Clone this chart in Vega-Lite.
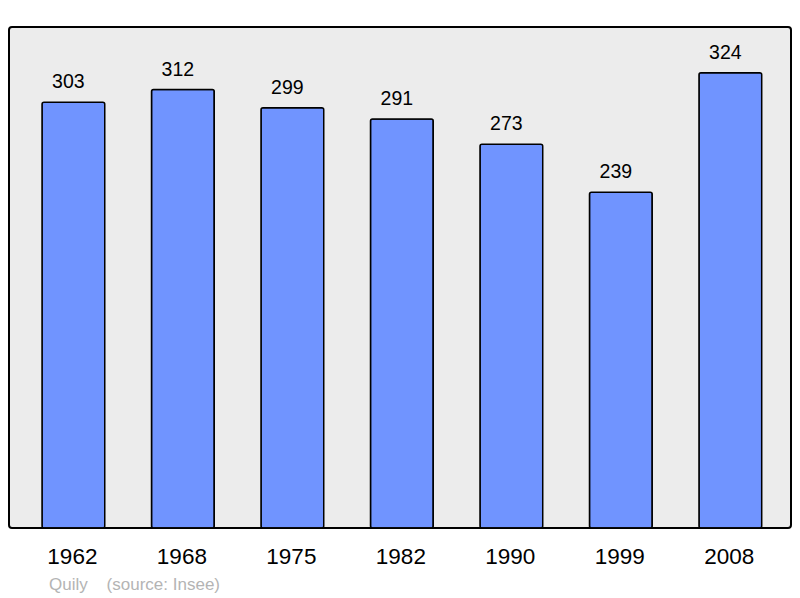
{
  "$schema": "https://vega.github.io/schema/vega-lite/v6.json",
  "width": 782,
  "height": 501,
  "autosize": "none",
  "padding": {"left": 9, "top": 27, "right": 9, "bottom": 70},
  "background": "white",
  "config": {
    "view": {"fill": "#ececec", "stroke": "#000000", "strokeWidth": 2, "cornerRadius": 3},
    "font": "Liberation Sans"
  },
  "title": {
    "text": "Quily\u00a0\u00a0\u00a0\u00a0(source: Insee)",
    "orient": "bottom",
    "anchor": "start",
    "frame": "group",
    "dx": 40,
    "offset": 9,
    "fontSize": 17,
    "fontWeight": "normal",
    "color": "#b4b4b4",
    "font": "Liberation Sans"
  },
  "data": {
    "values": [
      {"year": "1962", "pop": 303},
      {"year": "1968", "pop": 312},
      {"year": "1975", "pop": 299},
      {"year": "1982", "pop": 291},
      {"year": "1990", "pop": 273},
      {"year": "1999", "pop": 239},
      {"year": "2008", "pop": 324}
    ]
  },
  "encoding": {
    "x": {
      "field": "year",
      "type": "nominal",
      "sort": null,
      "scale": {"paddingInner": 0.427, "paddingOuter": 0.2845, "align": 0.53},
      "axis": {
        "title": null,
        "domain": false,
        "ticks": false,
        "labelAngle": 0,
        "labelFontSize": 22.5,
        "labelColor": "#000000",
        "labelFont": "Liberation Sans",
        "labelBaseline": "alphabetic",
        "labelPadding": 35,
        "labelOffset": -1
      }
    },
    "y": {
      "field": "pop",
      "type": "quantitative",
      "scale": {"domain": [0, 356.5], "nice": false, "zero": true},
      "axis": null
    }
  },
  "layer": [
    {
      "mark": {"type": "bar", "fill": "#7094ff", "stroke": "#000000", "strokeWidth": 1.5, "cornerRadius": 2}
    },
    {
      "mark": {"type": "text", "baseline": "alphabetic", "dy": -14, "dx": -5, "fontSize": 19.5, "color": "#000000", "font": "Liberation Sans"},
      "encoding": {"text": {"field": "pop", "type": "quantitative"}}
    }
  ]
}
